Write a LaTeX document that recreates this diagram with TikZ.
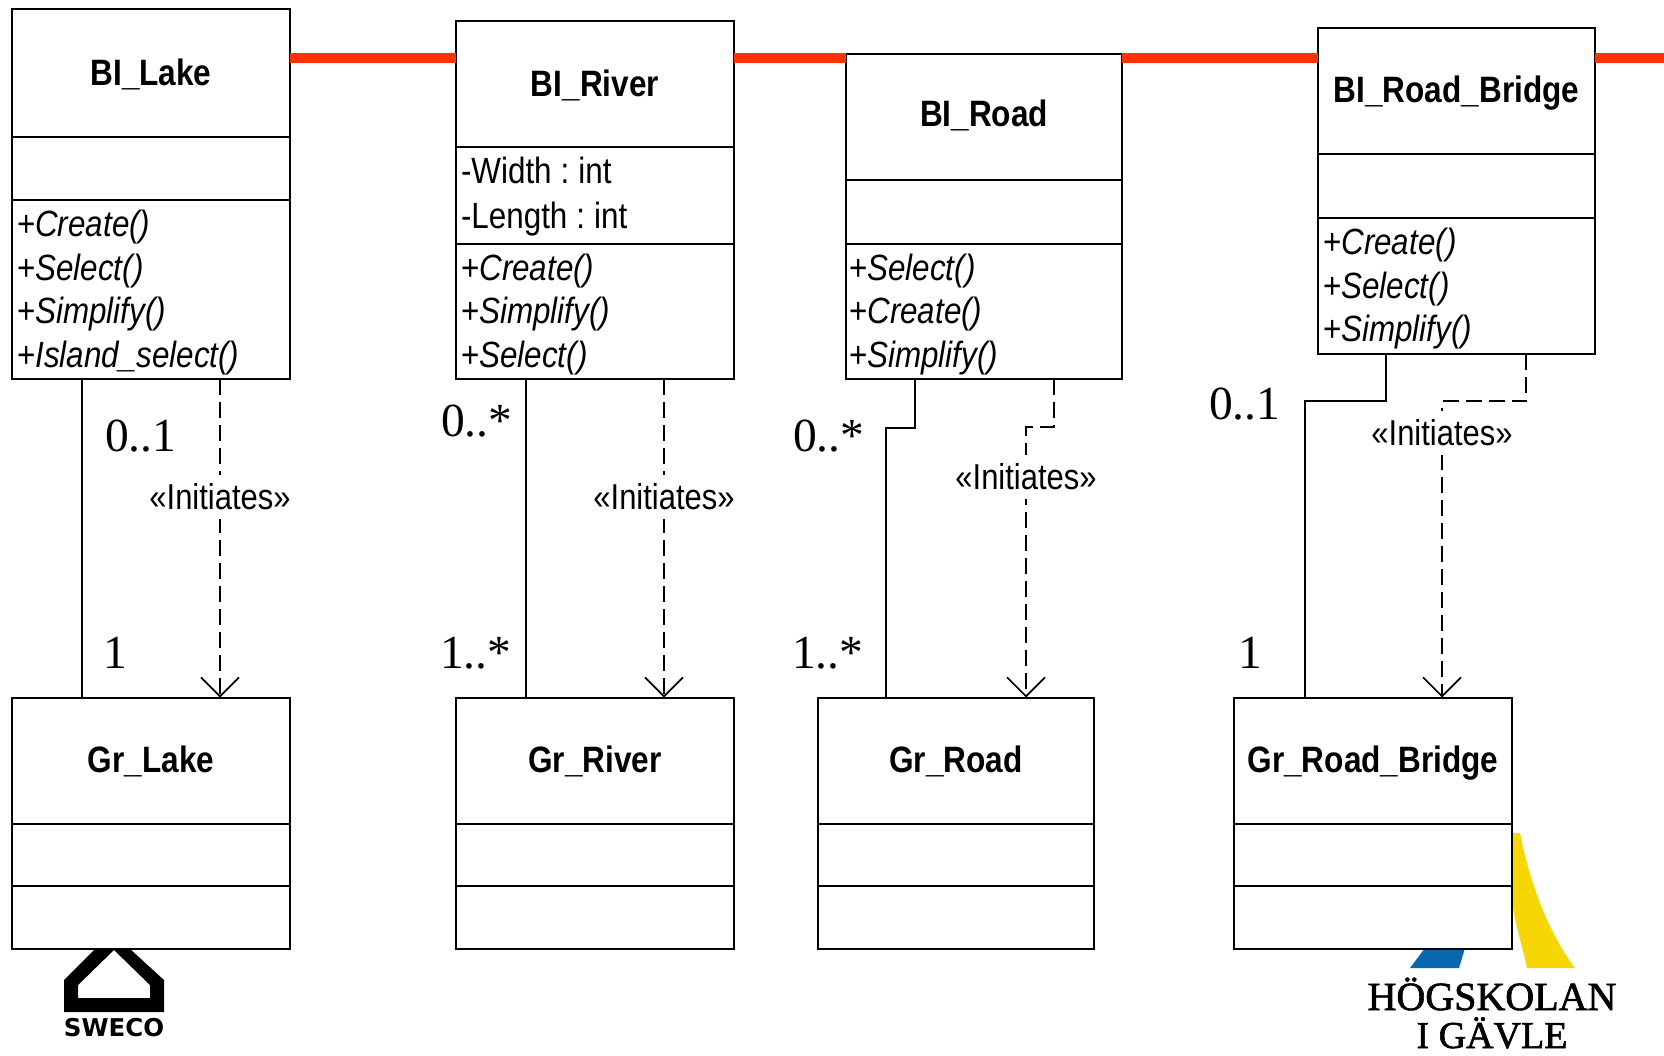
\documentclass[tikz,border=0pt]{standalone}
\usepackage{fontspec}
\usetikzlibrary{arrows.meta}
\setmainfont{Liberation Sans}[FakeStretch=0.86]
\newfontfamily\serifmult{Liberation Serif}
\newfontfamily\logoserif{Liberation Serif}[FakeBold=1.6]
\newfontfamily\logosans{DejaVu Sans}
\definecolor{redbar}{RGB}{255,51,0}
\definecolor{logoyellow}{RGB}{247,214,5}
\definecolor{logoblue}{RGB}{8,105,178}
\tikzset{
  comp/.style 2 args={draw=black,line width=2pt,fill=white,rectangle,anchor=north west,outer sep=0pt,inner xsep=5pt,inner ysep=0pt,
    minimum width=#1 pt,minimum height=#2 pt,text width=#1 pt-10pt},
  titlecomp/.style={align=center,font=\frenchspacing\fontsize{36.7}{40}\selectfont\bfseries,text height=29pt,text depth=5pt},
  listcomp/.style={align=left,font=\frenchspacing\fontsize{36.5}{43.5}\selectfont,execute at begin node=\rule{0pt}{33pt}},
  attrcomp/.style={align=left,font=\frenchspacing\fontsize{36.5}{43.5}\selectfont,execute at begin node=\rule{0pt}{30pt}},
  assoc/.style={draw=black,line width=2pt},
  dep/.style={draw=black,line width=1.7pt,dash pattern=on 16pt off 7pt,-{Straight Barb[length=19pt,width=38pt,line width=1.7pt]}},
  stereo/.style={fill=white,font=\fontsize{36}{40}\selectfont,inner xsep=0pt,inner ysep=0pt,minimum height=44pt},
  mult/.style={anchor=base west,inner sep=0pt,font=\fontsize{47.5}{50}\selectfont\serifmult}
}
\begin{document}
\begin{tikzpicture}[x=1pt,y=-1pt]
\useasboundingbox (0,0) rectangle (1664,1055);
% logos
\fill[black,even odd rule] (64,1012) -- (64,980) -- (95,949) -- (130,949) -- (164,980) -- (164,1012) -- cycle
  (78,998) -- (78,985) -- (114,950) -- (150,985) -- (150,998) -- cycle;
\node[anchor=base,inner sep=0pt,font=\fontsize{24.5}{26}\selectfont\logosans\bfseries] (sweco) at (114,1036) {SWECO};
\fill[logoyellow] (1512,833) -- (1520,833) .. controls (1530,885) and (1550,935) .. (1575,968) -- (1527,968) .. controls (1522,945) and (1515,925) .. (1512,900) -- cycle;
\fill[logoblue] (1410,968) -- (1459,968) -- (1465,948) -- (1425,948) -- cycle;
\node[anchor=base,inner sep=0pt,font=\fontsize{40}{42}\selectfont\logoserif] (hig1) at (1492,1010) {HÖGSKOLAN};
\node[anchor=base,inner sep=0pt,font=\fontsize{38}{42}\selectfont\logoserif] (hig2) at (1492,1048) {I GÄVLE};
% classes
\node[comp={278}{128},titlecomp] (a1) at (12,9) {BI\_Lake};
\node[comp={278}{62.5}] (a2) at (12,137) {};
\node[comp={278}{179.5},listcomp] (a3) at (12,199.5) {+\textit{Create()}\\+\textit{Select()}\\+\textit{Simplify()}\\+\textit{Island\_select()}};
\node[comp={278}{126},titlecomp] (b1) at (456,21) {BI\_River};
\node[comp={278}{96.5},attrcomp] (b2) at (456,147) {-Width\hspace{9pt}:\hspace{9pt}int\\[1.5pt]-Length\hspace{9pt}:\hspace{9pt}int};
\node[comp={278}{135.5},listcomp] (b3) at (456,243.5) {+\textit{Create()}\\+\textit{Simplify()}\\+\textit{Select()}};
\node[comp={276}{126},titlecomp] (c1) at (846,53.5) {\raisebox{2pt}{BI\_Road}};
\node[comp={276}{64}] (c2) at (846,179.5) {};
\node[comp={276}{135.5},listcomp] (c3) at (846,243.5) {\hspace*{-2pt}+\textit{Select()}\\\hspace*{-2pt}+\textit{Create()}\\\hspace*{-2pt}+\textit{Simplify()}};
\node[comp={277}{126},titlecomp] (d1) at (1318,27.5) {BI\_Road\_Bridge};
\node[comp={277}{64}] (d2) at (1318,153.5) {};
\node[comp={277}{136},listcomp] (d3) at (1318,217.5) {+\textit{Create()}\\+\textit{Select()}\\+\textit{Simplify()}};
\node[comp={278}{126},titlecomp] (e1) at (12,697.5) {Gr\_Lake};
\node[comp={278}{62.5}] (e2) at (12,823.5) {};
\node[comp={278}{63}] (e3) at (12,886) {};
\node[comp={278}{126},titlecomp] (f1) at (456,697.5) {Gr\_River};
\node[comp={278}{62.5}] (f2) at (456,823.5) {};
\node[comp={278}{63}] (f3) at (456,886) {};
\node[comp={276}{126},titlecomp] (g1) at (818,697.5) {Gr\_Road};
\node[comp={276}{62.5}] (g2) at (818,823.5) {};
\node[comp={276}{63}] (g3) at (818,886) {};
\node[comp={278}{126},titlecomp] (h1) at (1234,697.5) {Gr\_Road\_Bridge};
\node[comp={278}{62.5}] (h2) at (1234,823.5) {};
\node[comp={278}{63}] (h3) at (1234,886) {};
% red bars
\coordinate (barend) at (1664,58);
\draw[redbar,line width=10pt] (a1.east |- 0,58) -- (b1.west |- 0,58);
\draw[redbar,line width=10pt] (b1.east |- 0,58) -- (c1.west |- 0,58);
\draw[redbar,line width=10pt] (c1.east |- 0,58) -- (d1.west |- 0,58);
\draw[redbar,line width=10pt] (d1.east |- 0,58) -- (barend);
% associations
\draw[assoc] ([xshift=70pt]a3.south west) -- ([xshift=70pt]e1.north west);
\draw[assoc] ([xshift=70pt]b3.south west) -- ([xshift=70pt]f1.north west);
\draw[assoc] ([xshift=68.5pt]c3.south west) |- ++(-28.5,48.5) -- ([xshift=68pt]g1.north west);
\draw[assoc] ([xshift=68pt]d3.south west) -- ++(0,47.5) -- ++(-81.5,0) -- ([xshift=70.5pt]h1.north west);
% dependencies
\draw[dep] ([xshift=208pt]a3.south west) -- node[stereo,pos=0.37] (la) {«Initiates»} ([xshift=208pt]e1.north west);
\draw[dep] ([xshift=208pt]b3.south west) -- node[stereo,pos=0.37] (lb) {«Initiates»} ([xshift=208pt]f1.north west);
\draw[dep] ([xshift=208pt]c3.south west) -- ++(0,48) -- ++(-28,0) -- node[stereo,pos=0.185] (lc) {«Initiates»} ([xshift=208pt]g1.north west);
\draw[dep] ([xshift=208pt]d3.south west) -- ++(0,47.5) -- ++(-84,0) -- node[stereo,pos=0.108] (ld) {«Initiates»} ([xshift=208pt]h1.north west);
% multiplicities
\node[mult] (m1) at (105,451) {0..1};
\node[mult] (m2) at (103,668) {1};
\node[mult] (m3) at (441,436) {0..*};
\node[mult] (m4) at (440,668) {1..*};
\node[mult] (m5) at (793,451) {0..*};
\node[mult] (m6) at (792,668) {1..*};
\node[mult] (m7) at (1209,419) {0..1};
\node[mult] (m8) at (1238,668) {1};
\end{tikzpicture}
\end{document}
